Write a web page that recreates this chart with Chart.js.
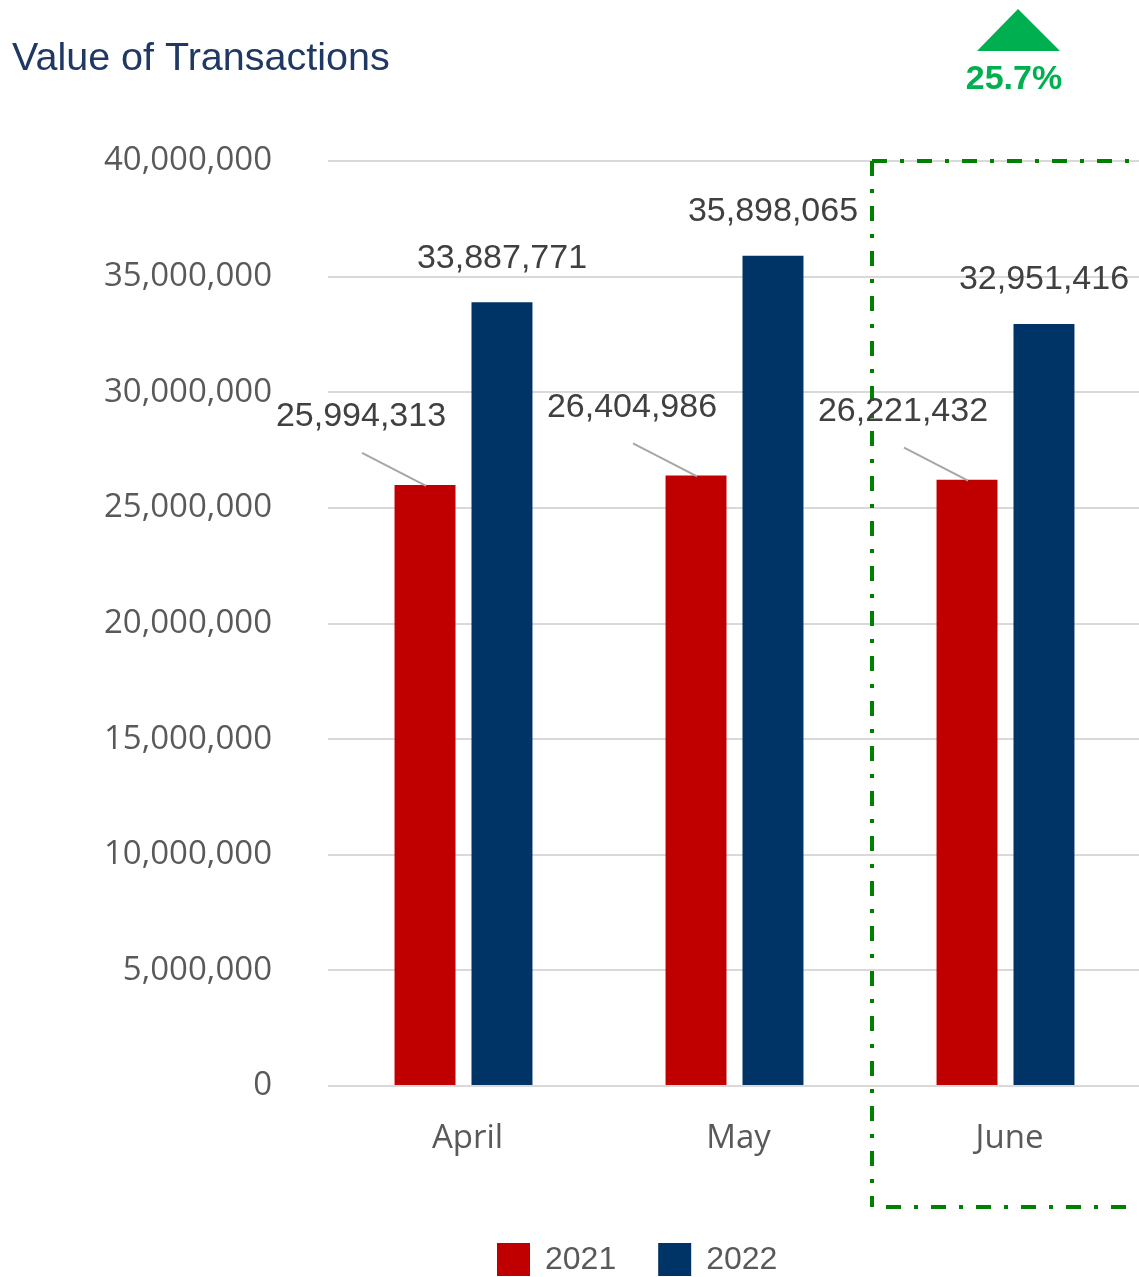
<!DOCTYPE html>
<html>
<head>
<meta charset="utf-8">
<title>Value of Transactions</title>
<script src="https://cdn.jsdelivr.net/npm/chart.js@4.4.0/dist/chart.umd.min.js"></script>
<style>
    html, body { margin: 0; padding: 0; background: #ffffff; overflow: hidden; }
    #wrap { width: 1139px; height: 1277px; overflow: hidden; position: relative; }
    canvas { display: block; }
</style>
</head>
<body>
<div id="wrap"><canvas id="txnChart" width="1160" height="1277"></canvas></div>
<script>
// Chart data
const months = ['April', 'May', 'June'];
const years = ['2021', '2022'];
const values2021 = [25994313, 26404986, 26221432];
const values2022 = [33887771, 35898065, 32951416];
const yTicks = [0, 5000000, 10000000, 15000000, 20000000, 25000000, 30000000, 35000000, 40000000];
const chartTitle = 'Value of Transactions';
const changeLabel = '25.7%';

const colors = ['#c00000', '#003366'];

function formatNumber(v) {
    return v.toLocaleString('en-US');
}

/**
 * Title, growth marker, highlight box, value labels and legend
 */
const annotations = {
    id: 'annotations',
    afterDatasetsDraw(chart) {
        const ctx = chart.ctx;
        const area = chart.chartArea;
        ctx.save();

        // title
        ctx.font = '39.5px "Liberation Sans", Arial, sans-serif';
        ctx.fillStyle = '#1f3864';
        ctx.textAlign = 'left';
        ctx.textBaseline = 'alphabetic';
        ctx.fillText(chartTitle, 12, 70);

        // green up arrow + percentage
        ctx.fillStyle = '#00b050';
        ctx.beginPath();
        ctx.moveTo(1018, 9);
        ctx.lineTo(1060, 51);
        ctx.lineTo(977, 51);
        ctx.closePath();
        ctx.fill();
        ctx.font = 'bold 34px "Liberation Sans", Arial, sans-serif';
        ctx.textAlign = 'center';
        ctx.textBaseline = 'middle';
        ctx.fillText(changeLabel, 1014, 80);

        // dash-dot box round June
        ctx.strokeStyle = '#008000';
        ctx.lineWidth = 4;
        ctx.setLineDash([15, 13, 4, 13]);
        const bx = 872, by = area.top, bb = 1207;
        ctx.beginPath();
        ctx.moveTo(bx, by); ctx.lineTo(chart.width, by);
        ctx.moveTo(bx, by); ctx.lineTo(bx, bb);
        ctx.moveTo(bx + 14, bb); ctx.lineTo(chart.width, bb);
        ctx.stroke();
        ctx.setLineDash([]);

        // value labels
        const m21 = chart.getDatasetMeta(0);
        const m22 = chart.getDatasetMeta(1);
        ctx.font = '34px "Liberation Sans", Arial, sans-serif';
        ctx.textAlign = 'center';
        ctx.textBaseline = 'middle';
        m22.data.forEach((bar, i) => {
            ctx.fillStyle = '#404040';
            ctx.fillText(formatNumber(values2022[i]), bar.x, bar.y - 44);
        });
        m21.data.forEach((bar, i) => {
            const lx = bar.x - 64;
            const ly = bar.y - 68;
            ctx.strokeStyle = '#a6a6a6';
            ctx.lineWidth = 2;
            ctx.beginPath();
            ctx.moveTo(lx + 1, ly + 36);
            ctx.lineTo(bar.x + 1, bar.y + 1);
            ctx.stroke();
            ctx.fillStyle = '#404040';
            ctx.fillText(formatNumber(values2021[i]), lx, ly);
        });

        // legend
        ctx.font = '32px "Liberation Sans", Arial, sans-serif';
        ctx.textAlign = 'left';
        ctx.textBaseline = 'middle';
        let x = 497;
        chart.data.datasets.forEach(ds => {
            ctx.fillStyle = ds.backgroundColor;
            ctx.fillRect(x, 1243, 33, 33);
            ctx.fillStyle = '#595959';
            ctx.fillText(ds.label, x + 48, 1260);
            x += 48 + ctx.measureText(ds.label).width + 42;
        });

        ctx.restore();
    }
};

const chart = new Chart(document.getElementById('txnChart'), {
    type: 'bar',
    data: {
        labels: months,
        datasets: [{
            label: years[0],
            data: values2021,
            backgroundColor: colors[0],
            categoryPercentage: 0.568,
            barPercentage: 0.792
        }, {
            label: years[1],
            data: values2022,
            backgroundColor: colors[1],
            categoryPercentage: 0.568,
            barPercentage: 0.792
        }]
    },
    options: {
        responsive: false,
        devicePixelRatio: 1,
        animation: false,
        layout: {
            padding: { top: 161, right: 19, bottom: 0, left: 0 }
        },
        plugins: {
            legend: { display: false },
            title: { display: false },
            tooltip: { enabled: false }
        },
        scales: {
            x: {
                grid: { display: false },
                border: { display: false },
                ticks: {
                    color: '#595959',
                    padding: 25,
                    labelOffset: 4,
                    font: { family: '"Open Sans", sans-serif', size: 33 }
                },
                afterFit: scale => { scale.height = 191; }
            },
            y: {
                min: 0,
                max: 40000000,
                afterBuildTicks: scale => { scale.ticks = yTicks.map(v => ({ value: v })); },
                grid: { color: '#d9d9d9', lineWidth: 2, drawTicks: false },
                border: { display: false },
                ticks: {
                    color: '#595959',
                    padding: 56,
                    font: { family: '"Open Sans", sans-serif', size: 33 },
                    callback: v => formatNumber(v)
                },
                afterFit: scale => { scale.width = 328; }
            }
        }
    },
    plugins: [annotations]
});
</script>
</body>
</html>
